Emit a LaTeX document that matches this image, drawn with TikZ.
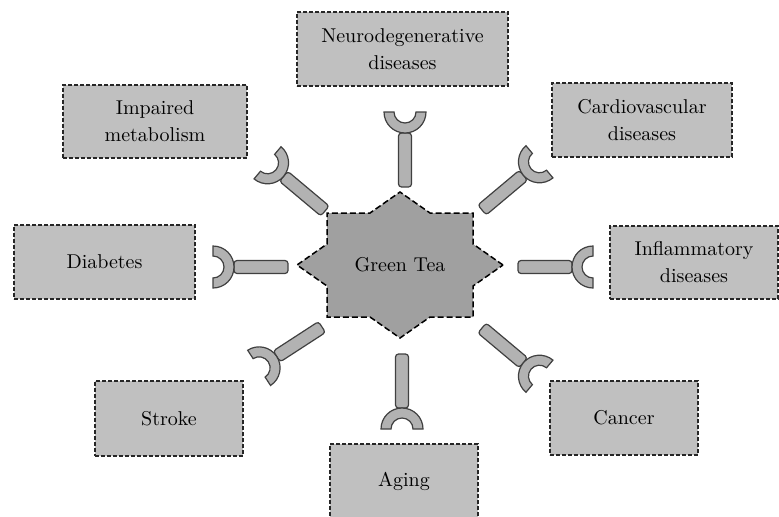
\documentclass[tikz,border=0pt]{standalone}
\usepackage{tikz}
\usetikzlibrary{calc}
\definecolor{boxgray}{HTML}{C0C0C0}
\definecolor{keygray}{HTML}{B2B2B2}
\definecolor{stargray}{HTML}{A0A0A0}
\tikzset{
  disease/.style={draw=black!85, fill=boxgray, line width=0.75pt, dash pattern=on 2pt off 1pt,
    align=center, inner sep=0pt, font=\fontsize{10}{13.5}\selectfont},
  keypart/.style={draw=black!75, fill=keygray, line width=0.6pt},
  teastar/.style={draw=black, fill=stargray, line width=0.75pt, dash pattern=on 3pt off 1.5pt}
}
% a receptor: handle from the star outwards, cup at its far end
\newcommand{\receptor}[3]{\begin{scope}[shift={(#1,#2)},rotate=#3]
  \draw[keypart, rounded corners=1.5pt] (0,-6.5) rectangle (54,6.5);
  \draw[keypart] (75,21) arc[start angle=90, end angle=270, radius=21] -- (75,-11) arc[start angle=270, end angle=90, radius=11] -- cycle;
\end{scope}}

\begin{document}
\begin{tikzpicture}[x=0.5pt, y=0.5pt]
    \useasboundingbox (0,0) rectangle (779,516);
    % star
    \begin{scope}[shift={(400,251)}]
        \draw[teastar] (103,0) -- (73,21) -- (73,52) -- (30,52) -- (0,73) -- (-30,52) -- (-73,52) -- (-73,21)
            -- (-103,0) -- (-73,-21) -- (-73,-52) -- (-30,-52) -- (0,-73) -- (30,-52) -- (73,-52) -- (73,-21) -- cycle;
    \end{scope}
    \node[font=\fontsize{10}{13.5}\selectfont] (tea) at (400,251) {Green Tea};
    % boxes
    \node[disease, minimum width=105.5pt, minimum height=37pt] (neuro) at (402.5,467) {Neurodegenerative\\diseases};
    \node[disease, minimum width=92pt, minimum height=36.5pt] (metab) at (155,394.5) {Impaired\\metabolism};
    \node[disease, minimum width=90pt, minimum height=37pt] (cardio) at (642,396) {Cardiovascular\\diseases};
    \node[disease, minimum width=90.5pt, minimum height=37pt] (diab) at (104.5,254) {Diabetes};
    \node[disease, minimum width=84pt, minimum height=36.5pt] (inflam) at (694,253.5) {Inflammatory\\diseases};
    \node[disease, minimum width=74pt, minimum height=37.5pt] (stroke) at (169,97.5) {Stroke};
    \node[disease, minimum width=74pt, minimum height=37pt] (cancer) at (624,98) {Cancer};
    \node[disease, minimum width=74pt, minimum height=37pt] (aging) at (404,35) {Aging};
    % receptors
    \receptor{405}{329}{90}
    \receptor{482}{306}{40}
    \receptor{325}{305}{140}
    \receptor{288}{249}{180}
    \receptor{518}{249}{0}
    \receptor{322}{189}{213}
    \receptor{402}{162}{270}
    \receptor{482}{188}{-40}
\end{tikzpicture}
\end{document}
